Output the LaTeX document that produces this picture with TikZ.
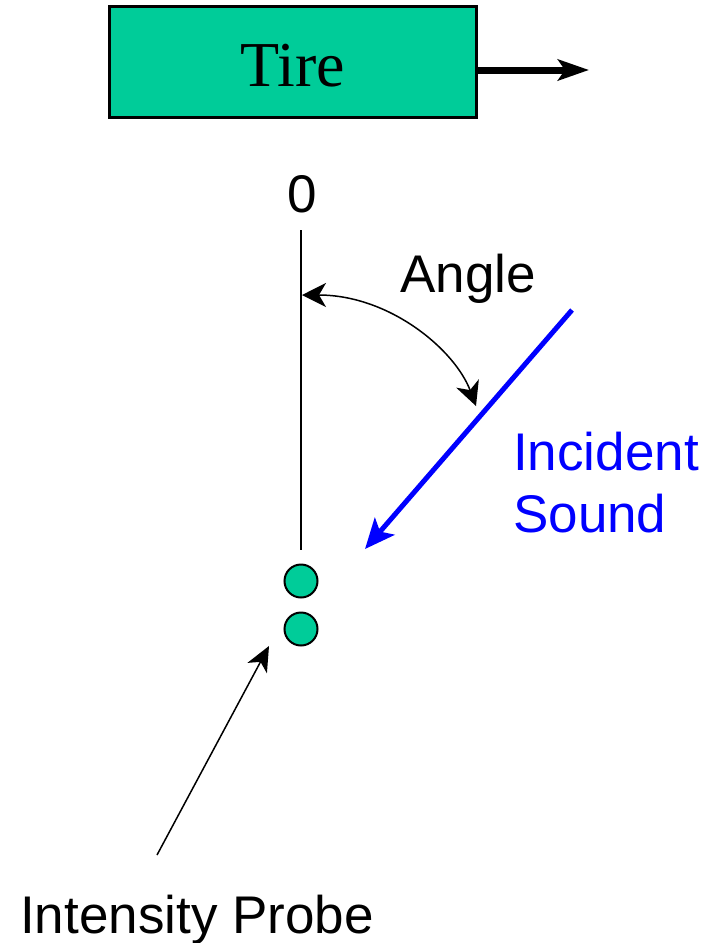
\documentclass[tikz,border=0pt]{standalone}
\usepackage{fontspec}
\setmainfont{Liberation Serif}
\setsansfont{Liberation Sans}
\usetikzlibrary{arrows.meta}
\definecolor{tiregreen}{HTML}{00CC99}
\definecolor{sndblue}{HTML}{0000FF}
\tikzset{
  lbl/.style={font=\sffamily\fontsize{53}{62}\selectfont, inner sep=0pt, anchor=base},
  probe/.style={circle, draw=black, line width=2pt, fill=tiregreen, minimum size=33pt, inner sep=0pt},
}
\begin{document}
\begin{tikzpicture}[x=1pt,y=-1pt]
\useasboundingbox (0,0) rectangle (724,943);
% tire
\node[draw=black, line width=3pt, fill=tiregreen, minimum width=367pt, minimum height=111pt, inner sep=0pt] (tire) at (292.5,61.5) {};
\node[font=\fontsize{64}{70}\selectfont, inner sep=0pt, anchor=base] (tiretext) at (293,86) {Tire};
\coordinate (tiretip) at (589,70);
\draw[line width=7pt, -{Stealth[length=31pt,width=21pt,inset=7pt]}] (tire.east |- tiretip) -- (tiretip);
% reference line
\node[lbl] (zero) at (302,212) {0};
\coordinate (reftop) at (301,230);
\coordinate (refbot) at (301,550);
\draw[line width=2pt] (reftop) -- (refbot);
% angle
\node[lbl] (angle) at (468,292) {Angle};
\coordinate (angA) at (302,295);
\coordinate (angB) at (476,406);
\draw[line width=1.5pt, {Stealth[length=24pt,width=24pt,inset=7pt]}-{Stealth[length=24pt,width=24pt,inset=7pt]}] (angA) .. controls (390,295) and (455,350) .. (angB);
% incident sound
\coordinate (sndstart) at (572,310);
\coordinate (sndtip) at (365,549);
\draw[sndblue, line width=5pt, -{Stealth[length=30pt,width=26pt,inset=7pt]}] (sndstart) -- (sndtip);
\node[lbl, anchor=base west, text=sndblue] (incident) at (513,470) {Incident};
\node[lbl, anchor=base west, text=sndblue] (sound) at (513,532) {Sound};
% probe
\node[probe] (mic1) at (301,581) {};
\node[probe] (mic2) at (301,629) {};
\coordinate (probetail) at (157,855);
\coordinate (probetip) at (269,646);
\draw[line width=1.5pt, -{Stealth[length=25pt,width=22pt,inset=7pt]}] (probetail) -- (probetip);
\node[lbl, anchor=base west] (probelbl) at (20,933) {Intensity Probe};
\end{tikzpicture}
\end{document}
